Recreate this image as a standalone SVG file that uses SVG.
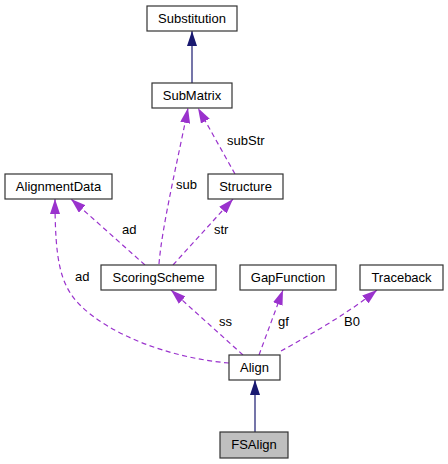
<svg xmlns="http://www.w3.org/2000/svg" width="448" height="464" viewBox="0 0 448 464">
<style>
.node rect{fill:#ffffff;stroke:#333333;stroke-width:1.2}
.node.cur rect{fill:#bfbfbf}
text{font-family:"Liberation Sans",Arial,sans-serif;font-size:13px;fill:#000}
.node text{text-anchor:middle}
.inh{fill:none;stroke:#191970;stroke-width:1.2}
.use{fill:none;stroke:#9a32cd;stroke-width:1.2;stroke-dasharray:5,3.5}
</style>
<defs>
<marker id="ah" markerUnits="userSpaceOnUse" markerWidth="15" markerHeight="10" viewBox="0 0 15 10" refX="15" refY="5" orient="auto">
<path d="M0,0 L15,5 L0,10 z" fill="#191970"/>
</marker>
<marker id="ap" markerUnits="userSpaceOnUse" markerWidth="15" markerHeight="10" viewBox="0 0 15 10" refX="15" refY="5" orient="auto">
<path d="M0,0 L15,5 L0,10 z" fill="#9a32cd"/>
</marker>
</defs>
<g id="connectors">
<path class="inh" d="M192,83 L192,31" marker-end="url(#ah)"/>
<path class="inh" d="M255,432 L255,380" marker-end="url(#ah)"/>
<path class="use" d="M159,264 C162,225 180,150 188,108" marker-end="url(#ap)"/>
<path class="use" d="M235,174 L198,108" marker-end="url(#ap)"/>
<path class="use" d="M145,265 L71,199" marker-end="url(#ap)"/>
<path class="use" d="M173,265 L233,199" marker-end="url(#ap)"/>
<path class="use" d="M229,363 C170,358 110,335 80,305 C60,285 55,260 55,199" marker-end="url(#ap)"/>
<path class="use" d="M243,355 L171,290" marker-end="url(#ap)"/>
<path class="use" d="M259,355 L283,290" marker-end="url(#ap)"/>
<path class="use" d="M281,351 C310,335 350,312 377,290" marker-end="url(#ap)"/>
<text x="176" y="189">sub</text>
<text x="227" y="145">subStr</text>
<text x="122" y="234">ad</text>
<text x="214" y="234">str</text>
<text x="75" y="281">ad</text>
<text x="219" y="326">ss</text>
<text x="278" y="326">gf</text>
<text x="344" y="326">B0</text>
</g>
<g id="Substitution" class="node"><rect x="147" y="6" width="90" height="25"/><text x="192" y="22.5">Substitution</text></g>
<g id="SubMatrix" class="node"><rect x="152" y="83" width="80" height="25"/><text x="192" y="99.5">SubMatrix</text></g>
<g id="AlignmentData" class="node"><rect x="5" y="174" width="107" height="25"/><text x="58.5" y="190.5">AlignmentData</text></g>
<g id="Structure" class="node"><rect x="208" y="174" width="75" height="25"/><text x="245.5" y="190.5">Structure</text></g>
<g id="ScoringScheme" class="node"><rect x="101" y="265" width="115" height="25"/><text x="158.5" y="281.5">ScoringScheme</text></g>
<g id="GapFunction" class="node"><rect x="240" y="265" width="96" height="25"/><text x="288" y="281.5">GapFunction</text></g>
<g id="Traceback" class="node"><rect x="360" y="265" width="83" height="25"/><text x="401.5" y="281.5">Traceback</text></g>
<g id="Align" class="node"><rect x="229" y="355" width="51" height="25"/><text x="254.5" y="371.5">Align</text></g>
<g id="FSAlign" class="node cur"><rect x="220" y="432" width="68" height="26"/><text x="254" y="449">FSAlign</text></g>
</svg>
